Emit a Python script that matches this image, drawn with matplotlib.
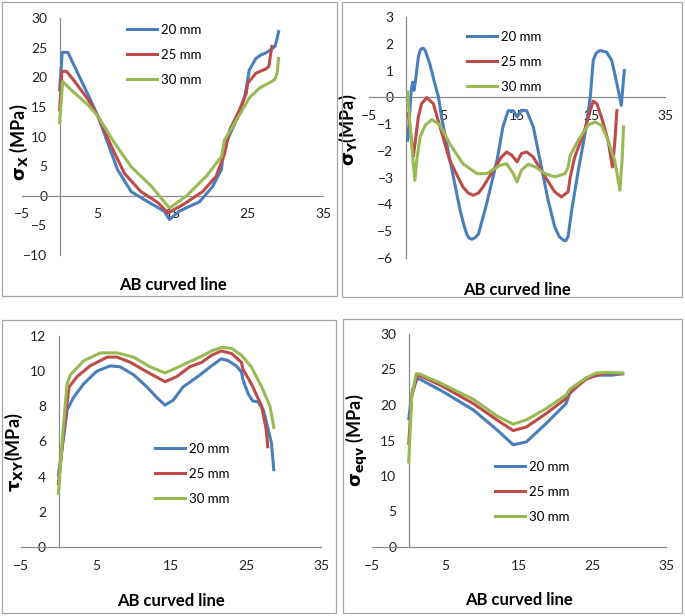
import matplotlib
matplotlib.use("Agg")
import matplotlib.pyplot as plt
from matplotlib.patches import Rectangle

plt.rcParams['font.family'] = ['Lato', 'DejaVu Sans']
plt.rcParams['mathtext.fontset'] = 'dejavusans'

W, H = 685, 616
labels = ['20 mm', '25 mm', '30 mm']
colors = ['#4A7EBB', '#BE4B48', '#98B954']

# sigma X
sx_x20 = [0, 0.35, 1.1, 2.4, 3.8, 5.1, 6.4, 7.7, 9.5, 11.7, 13.9, 14.6, 15.9, 18.6, 20.3, 21.5, 21.7, 22.1, 23.5, 24.6, 25.0, 25.2, 26.1, 26.8, 27.4, 28.1, 28.6, 28.8, 29.1]
sx_y20 = [17.9, 24.2, 24.2, 20.7, 17.0, 13.4, 8.9, 4.4, 0.7, -1.0, -2.6, -4.0, -2.6, -1.0, 1.5, 4.4, 6.6, 8.9, 12.8, 16.7, 19.6, 21.2, 23.2, 23.8, 24.1, 24.7, 25.2, 26.0, 27.7]
sx_x25 = [0, 0.3, 0.9, 2.0, 3.8, 5.1, 6.9, 8.6, 10.8, 13.1, 14.4, 16.4, 19.0, 20.8, 21.9, 22.6, 23.9, 24.8, 25.0, 26.1, 27.4, 27.8, 28.2]
sx_y25 = [14.5, 21.0, 21.0, 19.3, 16.2, 13.4, 8.3, 3.8, 0.7, -1.2, -2.9, -1.5, 0.7, 3.3, 7.0, 11.1, 14.5, 17.3, 19.0, 20.7, 21.4, 21.8, 25.2]
sx_x30 = [0, 0.4, 1.5, 3.8, 5.1, 7.3, 9.5, 12.2, 14.6, 16.8, 19.5, 21.5, 21.7, 21.9, 23.0, 24.3, 25.2, 26.6, 27.9, 28.6, 28.9, 29.1]
sx_y30 = [12.3, 19.3, 17.9, 15.3, 13.4, 8.9, 4.9, 1.6, -2.1, -0.1, 3.3, 6.6, 7.8, 9.4, 11.7, 14.5, 16.5, 18.2, 19.1, 19.6, 20.7, 23.2]

# sigma Y
sy_x20 = [0.2, 0.45, 0.7, 0.9, 1.08, 1.26, 1.67, 1.9, 2.1, 2.35, 2.6, 3.2, 3.9, 4.4, 4.8, 5.5, 6.4, 7.3, 7.8, 8.2, 8.5, 8.9, 9.3, 9.8, 10.9, 12.3, 13.1, 13.8, 14.5, 15.0, 15.6, 16.3, 17.2, 18.3, 19.2, 20.1, 20.7, 21.3, 21.6, 21.9, 22.4, 23.3, 24.2, 24.9, 25.3, 25.7, 26.2, 27.1, 27.8, 28.5, 29.1, 29.3, 29.5]
sy_y20 = [-1.6, -0.86, 0.26, 0.57, 0.26, 0.57, 1.5, 1.75, 1.82, 1.83, 1.75, 1.26, 0.51, 0.0, -0.73, -1.73, -2.97, -4.2, -4.75, -5.1, -5.25, -5.3, -5.25, -5.1, -3.97, -2.35, -1.1, -0.5, -0.5, -0.73, -0.48, -0.5, -1.1, -2.6, -3.84, -4.84, -5.2, -5.34, -5.35, -5.2, -4.2, -2.7, -1.35, 0.0, 1.38, 1.65, 1.75, 1.69, 1.38, 0.51, -0.3, 0.38, 1.0]
sy_x25 = [0.3, 1.0, 1.67, 2.1, 2.8, 3.7, 4.6, 5.9, 7.7, 8.4, 9.1, 9.8, 10.4, 11.8, 12.9, 13.6, 14.3, 15.0, 15.6, 16.3, 17.2, 18.8, 20.1, 21.0, 21.9, 22.2, 22.8, 24.0, 24.9, 25.3, 25.8, 26.4, 27.3, 27.9, 28.2, 28.5]
sy_y25 = [-0.6, -2.2, -0.73, -0.24, -0.01, -0.24, -1.1, -2.35, -3.35, -3.57, -3.66, -3.57, -3.35, -2.72, -2.23, -2.04, -2.16, -2.41, -2.1, -2.04, -2.23, -2.97, -3.53, -3.72, -3.53, -2.97, -2.23, -1.35, -0.49, -0.14, -0.24, -0.73, -1.6, -2.6, -1.73, -0.49]
sy_x30 = [0.2, 0.5, 0.9, 1.2, 1.45, 1.9, 2.6, 3.5, 4.6, 5.9, 7.7, 9.6, 10.9, 12.7, 13.6, 14.5, 15.0, 15.6, 16.5, 17.5, 18.8, 20.1, 21.5, 21.9, 22.2, 23.3, 24.6, 25.5, 26.4, 27.3, 28.2, 28.9, 29.2, 29.4]
sy_y30 = [0.2, -0.86, -2.23, -3.1, -2.35, -1.48, -1.04, -0.83, -1.04, -1.73, -2.48, -2.85, -2.85, -2.54, -2.48, -2.85, -3.16, -2.72, -2.5, -2.6, -2.85, -2.97, -2.85, -2.6, -2.16, -1.6, -1.04, -0.92, -1.04, -1.6, -2.35, -3.47, -2.35, -1.1]

# tau XY
txy_x20 = [0, 0.7, 1.15, 2.0, 3.4, 5.1, 6.9, 8.2, 10.0, 11.8, 13.1, 14.2, 15.3, 16.6, 18.6, 20.4, 21.7, 22.6, 23.7, 24.4, 24.6, 25.3, 25.9, 26.6, 27.3, 27.9, 28.4, 28.7]
txy_y20 = [4.1, 6.3, 7.8, 8.5, 9.3, 10.0, 10.3, 10.25, 9.8, 9.1, 8.5, 8.07, 8.35, 9.1, 9.7, 10.3, 10.7, 10.6, 10.3, 9.96, 9.5, 8.7, 8.3, 8.26, 7.8, 6.8, 5.9, 4.4]
txy_x25 = [0, 0.7, 1.4, 2.5, 4.2, 6.5, 7.8, 9.6, 11.8, 14.2, 15.8, 17.5, 19.1, 20.4, 21.7, 23.1, 24.4, 24.6, 25.7, 27.1, 27.7, 27.9]
txy_y25 = [3.6, 6.6, 9.1, 9.7, 10.3, 10.8, 10.8, 10.5, 9.96, 9.4, 9.7, 10.25, 10.5, 10.9, 11.15, 11.0, 10.5, 10.1, 9.3, 8.0, 6.65, 5.7]
txy_x30 = [0, 0.5, 1.15, 1.6, 3.4, 5.6, 7.8, 10.0, 12.2, 14.2, 15.8, 17.3, 19.1, 20.4, 21.7, 23.1, 24.4, 25.7, 27.1, 28.2, 28.7]
txy_y30 = [3.05, 6.1, 9.3, 9.8, 10.6, 11.04, 11.04, 10.8, 10.25, 9.9, 10.2, 10.5, 10.85, 11.15, 11.35, 11.3, 10.9, 10.25, 9.1, 8.0, 6.8]

# sigma eqv
se_x20 = [0, 0.5, 1.2, 4.3, 8.8, 12.0, 14.2, 16.0, 18.7, 21.4, 21.9, 24.1, 25.9, 27.7, 29.1]
se_y20 = [18.1, 22.1, 23.8, 22.1, 19.3, 16.5, 14.4, 14.8, 17.4, 20.2, 21.6, 23.8, 24.2, 24.2, 24.4]
se_x25 = [0, 0.4, 1.2, 4.3, 8.8, 12.0, 14.2, 16.0, 18.7, 21.4, 21.9, 24.1, 25.5, 26.9, 29.1]
se_y25 = [14.6, 21.2, 24.3, 22.8, 20.2, 17.9, 16.4, 16.9, 18.8, 20.9, 21.8, 23.6, 24.2, 24.5, 24.4]
se_x30 = [0, 0.4, 1.0, 1.4, 4.3, 8.8, 12.0, 14.2, 16.0, 18.7, 21.4, 21.9, 24.1, 25.5, 26.9, 29.1]
se_y30 = [12.0, 21.2, 24.4, 24.4, 23.1, 20.8, 18.45, 17.3, 17.9, 19.5, 21.4, 22.2, 23.8, 24.5, 24.6, 24.5]

xticks = [-5, 5, 15, 25, 35]


def px_rect(l, t, r, b):
    return [l / W, 1 - b / H, (r - l) / W, (b - t) / H]


def panel(fig, rect, series, ylim, ystep, ylabel, xlab_y, ylab_xy, leg_xy):
    ax = fig.add_axes(px_rect(*rect))
    for (xs, ys), c, lab in zip(series, colors, labels):
        ax.plot(xs, ys, color=c, lw=2.2, label=lab, zorder=3, solid_joinstyle='round')
    ax.set_xlim(-5, 35)
    ax.set_ylim(*ylim)
    ax.set_xticks(xticks)
    yt = []
    v = ylim[0]
    while v <= ylim[1] + 1e-9:
        yt.append(v)
        v += ystep
    ax.set_yticks(yt)
    for s in ['top', 'right']:
        ax.spines[s].set_visible(False)
    ax.spines['left'].set_position(('data', 0))
    ax.spines['bottom'].set_position(('data', 0))
    for s in ['left', 'bottom']:
        ax.spines[s].set_color('#8c8c8c')
        ax.spines[s].set_linewidth(0.9)
    ax.tick_params(axis='both', length=0, labelsize=10, colors='#222222')
    ax.tick_params(axis='x', pad=9)
    ax.tick_params(axis='y', pad=9)
    ax.patch.set_alpha(0)
    ax.set_xlabel('AB curved line', fontsize=12, fontweight='bold')
    ax.xaxis.set_label_coords(0.5, xlab_y)
    ax.set_ylabel(ylabel, fontsize=13, fontweight='bold')
    ax.yaxis.set_label_coords(*ylab_xy)
    lx, ly = leg_xy
    ax.legend(loc='upper left', bbox_to_anchor=(lx / W, 1 - ly / H), bbox_transform=fig.transFigure,
              frameon=False, fontsize=9.5, borderpad=0, borderaxespad=0,
              handlelength=2.3, handletextpad=0.25, labelspacing=0.97)
    return ax


fig = plt.figure(figsize=(W / 100, H / 100), dpi=100)

for (l, t, r, b) in [(2, 2, 337, 296), (342, 2, 682, 297), (2, 320, 336, 613), (343, 319, 682, 613)]:
    fig.patches.append(Rectangle((l / W, 1 - b / H), (r - l) / W, (b - t) / H, transform=fig.transFigure,
                                 fill=False, edgecolor='#a6a6a6', lw=0.9))

panel(fig, (22, 18, 323, 255), [(sx_x20, sx_y20), (sx_x25, sx_y25), (sx_x30, sx_y30)],
      (-10, 30), 5, r'$\mathbf{\sigma_X}$ (MPa)', -0.093, (0.027, 0.477), (127, 24))
panel(fig, (369, 17, 665, 258), [(sy_x20, sy_y20), (sy_x25, sy_y25), (sy_x30, sy_y30)],
      (-6, 3), 1, r'$\mathbf{\sigma_Y}$(MPa)', -0.1, (-0.033, 0.53), (467, 31))
panel(fig, (21, 336, 321, 547), [(txy_x20, txy_y20), (txy_x25, txy_y25), (txy_x30, txy_y30)],
      (0, 12), 2, r'$\mathbf{\tau_{XY}}$(MPa)', -0.218, (0.013, 0.45), (155, 443))
panel(fig, (372, 334, 666, 547), [(se_x20, se_y20), (se_x25, se_y25), (se_x30, se_y30)],
      (0, 30), 5, r'$\mathbf{\sigma_{eqv}}$ (MPa)', -0.211, (-0.007, 0.5), (495, 461))

fig.savefig('out.png', dpi=100)
